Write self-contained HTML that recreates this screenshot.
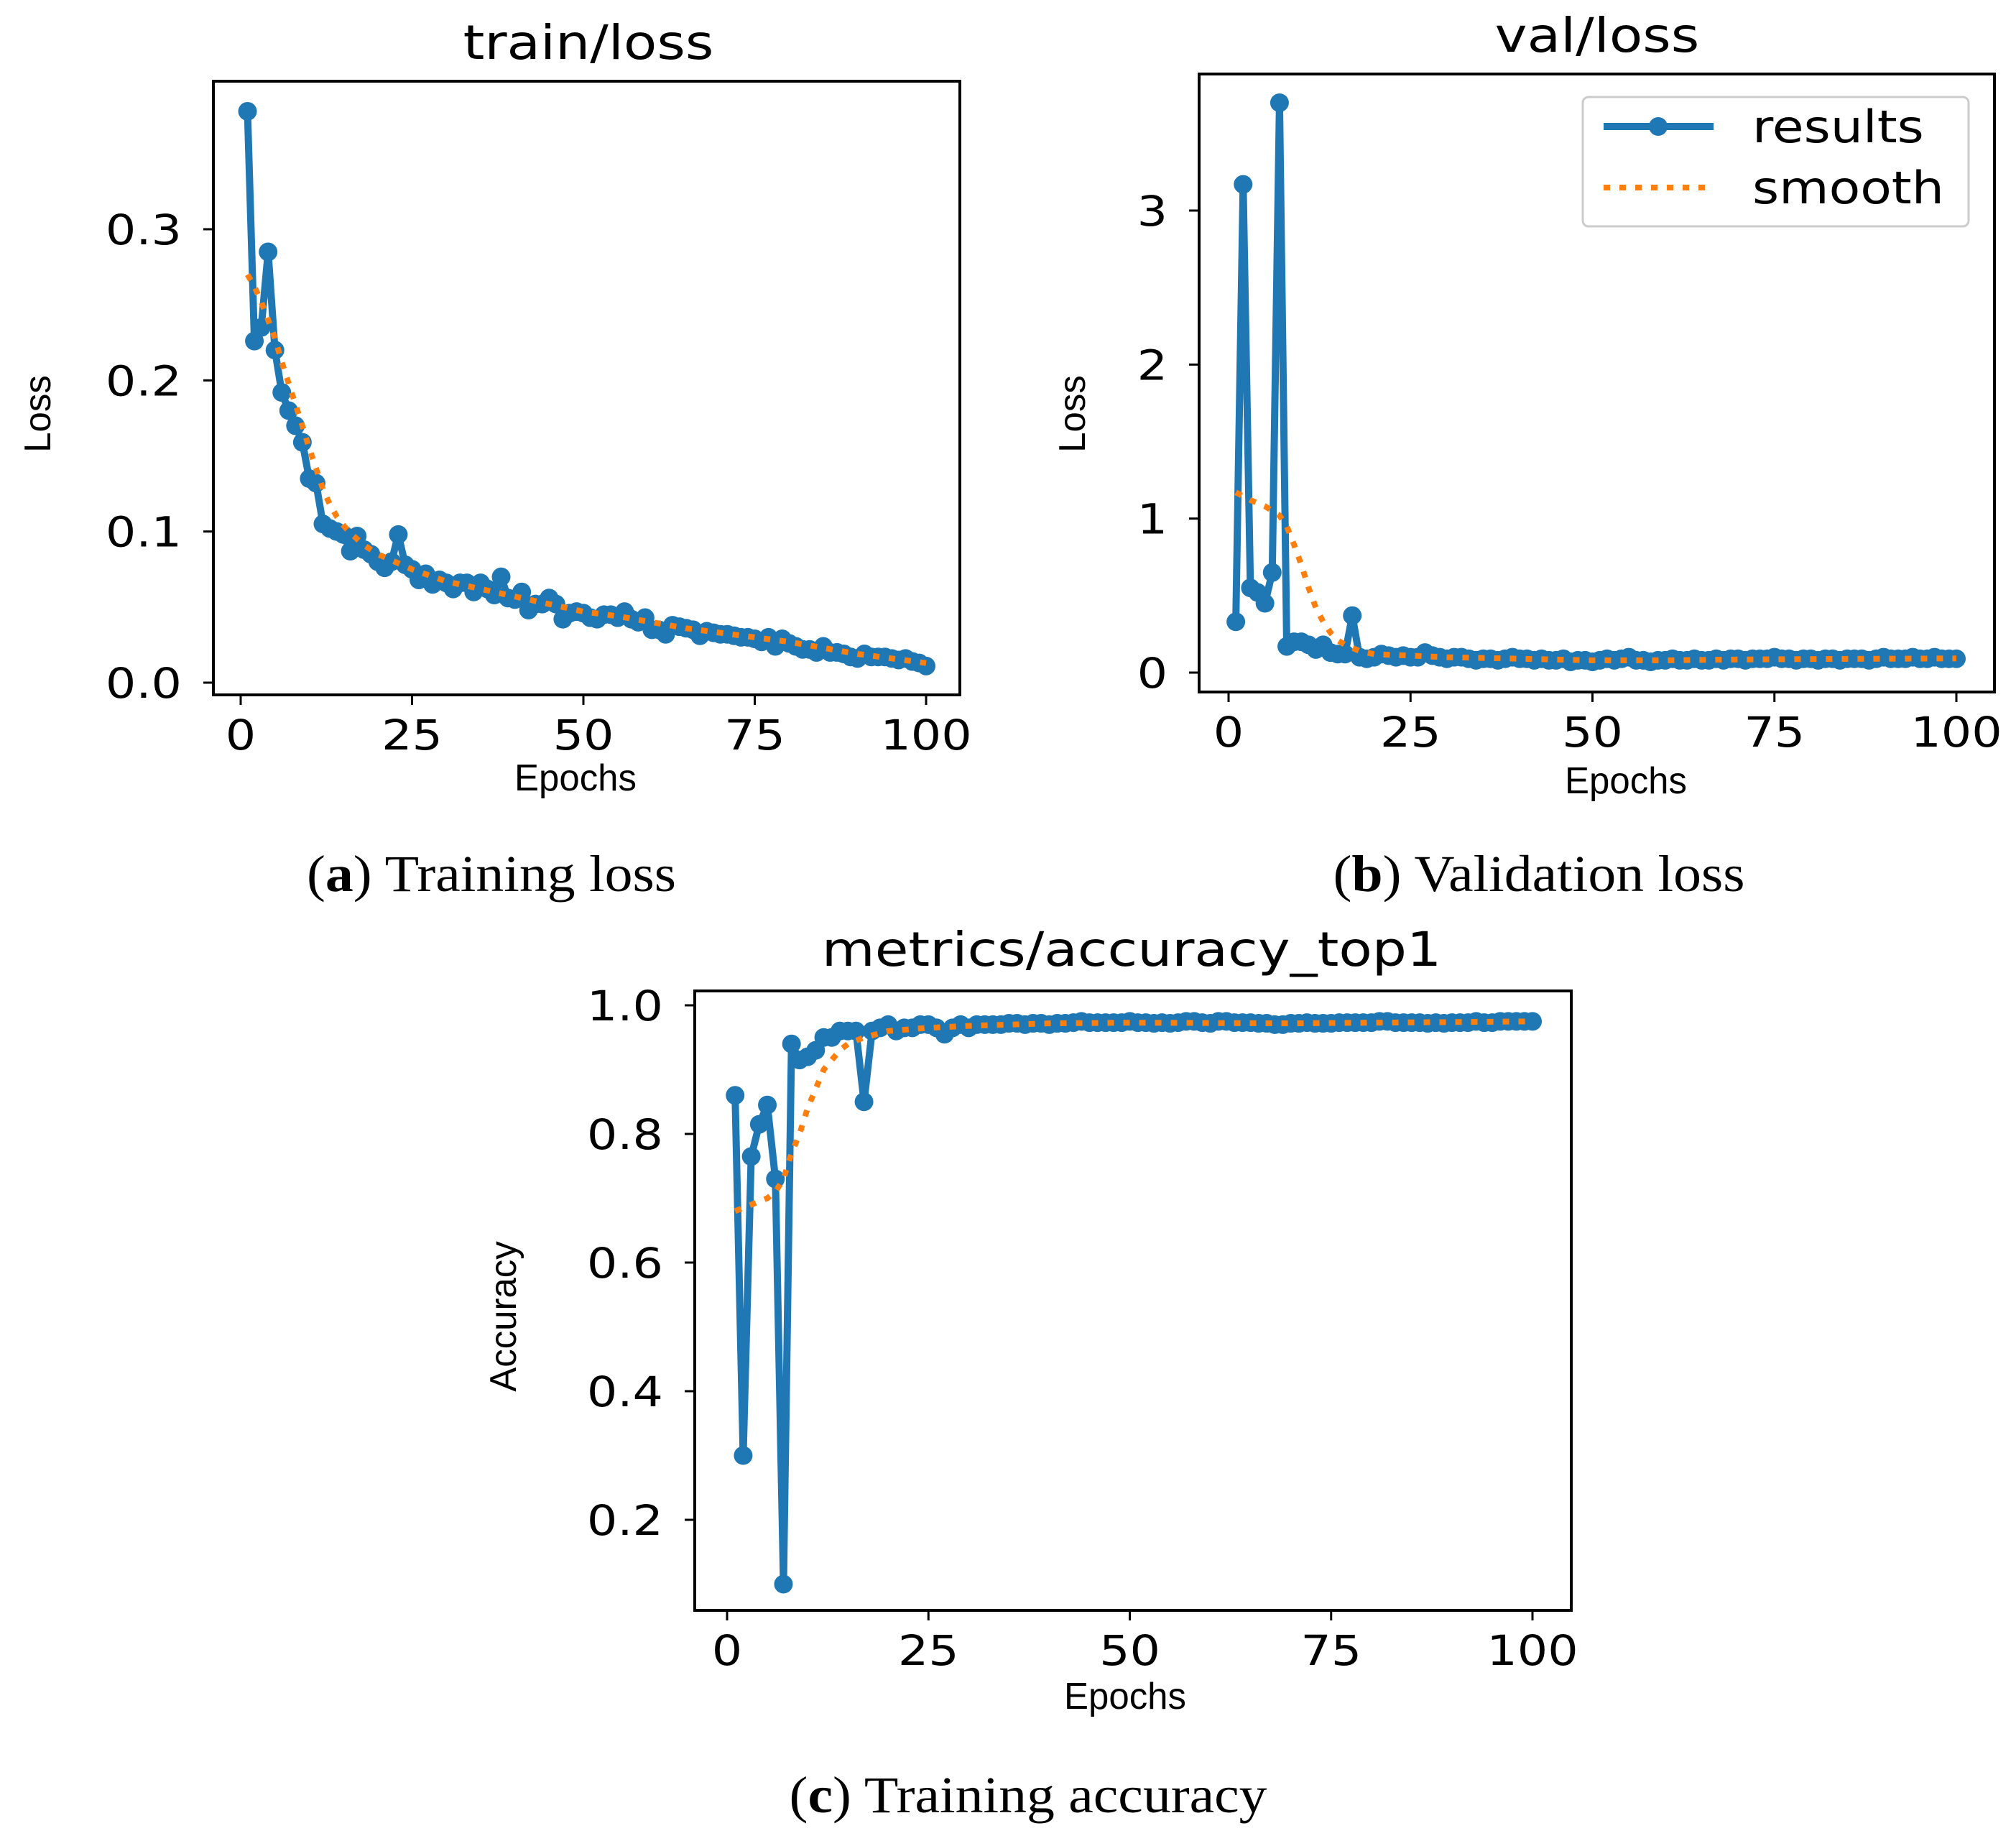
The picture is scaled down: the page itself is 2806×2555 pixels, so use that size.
<!DOCTYPE html>
<html><head><meta charset="utf-8">
<style>
html,body{margin:0;padding:0;background:#fff;}
svg{display:block;}
</style></head>
<body>
<svg id="fig" xmlns="http://www.w3.org/2000/svg" width="2806" height="2555" viewBox="0 0 2806 2555"></svg>
<script>
// ---------- data ----------
const epochs = Array.from({length:100},(_,i)=>i+1);
const trainLoss = [0.378,0.226,0.235,0.285,0.22,0.192,0.18,0.17,0.159,0.135,0.132,0.105,0.102,0.1,0.098,0.087,0.097,0.088,0.085,0.08,
0.076,0.08,0.098,0.078,0.075,0.068,0.072,0.065,0.068,0.066,0.062,0.066,0.066,0.06,0.066,0.062,0.058,0.07,0.056,0.055,
0.06,0.048,0.052,0.052,0.056,0.052,0.042,0.046,0.047,0.046,0.043,0.042,0.045,0.045,0.043,0.047,0.042,0.04,0.043,0.035,
0.035,0.032,0.038,0.037,0.036,0.035,0.031,0.034,0.033,0.032,0.032,0.031,0.03,0.03,0.029,0.027,0.03,0.024,0.029,0.026,
0.024,0.022,0.022,0.02,0.024,0.02,0.02,0.019,0.017,0.016,0.019,0.017,0.017,0.017,0.016,0.015,0.016,0.014,0.013,0.011];
const trainSmoothX = [1,2,3,4,5,6,7,8,9,10,11,12,13,14,15,16,18,20,22,25,30,35,40,45,50,55,60,65,70,75,80,85,90,95,100];
const trainSmoothY = [0.27,0.262,0.252,0.24,0.228,0.212,0.198,0.184,0.17,0.155,0.142,0.128,0.118,0.11,0.104,0.099,0.091,0.085,0.081,0.075,0.067,0.062,0.057,0.052,0.047,0.044,0.04,0.036,0.033,0.03,0.027,0.023,0.019,0.016,0.013];

const valLoss = [0.33,3.17,0.55,0.52,0.45,0.65,3.7,0.17,0.2,0.2,0.18,0.15,0.18,0.13,0.12,0.12,0.37,0.1,0.09,0.1,
0.12,0.11,0.1,0.11,0.1,0.1,0.13,0.11,0.1,0.09,0.1,0.1,0.09,0.08,0.09,0.09,0.08,0.09,0.1,0.09,
0.09,0.08,0.09,0.08,0.08,0.09,0.07,0.08,0.08,0.07,0.08,0.09,0.08,0.09,0.1,0.08,0.08,0.07,0.08,0.08,
0.09,0.08,0.08,0.09,0.08,0.08,0.09,0.08,0.09,0.09,0.08,0.09,0.09,0.09,0.1,0.09,0.09,0.08,0.09,0.09,
0.08,0.09,0.09,0.08,0.09,0.09,0.09,0.08,0.09,0.1,0.09,0.09,0.09,0.1,0.09,0.09,0.1,0.09,0.09,0.09];
const valSmoothX = [1,3,5,7,8,9,10,11,12,13,14,15,16,18,20,25,30,40,50,60,70,80,90,100];
const valSmoothY = [1.17,1.12,1.08,1.02,0.95,0.83,0.7,0.55,0.42,0.33,0.26,0.21,0.18,0.14,0.12,0.11,0.1,0.09,0.08,0.08,0.085,0.088,0.09,0.092];

const accuracy = [0.86,0.3,0.765,0.815,0.845,0.73,0.1,0.94,0.915,0.92,0.93,0.95,0.95,0.96,0.96,0.96,0.85,0.96,0.965,0.97,
0.96,0.965,0.965,0.97,0.97,0.965,0.955,0.965,0.97,0.965,0.97,0.97,0.97,0.97,0.972,0.972,0.97,0.972,0.972,0.97,
0.972,0.972,0.973,0.975,0.973,0.973,0.973,0.973,0.973,0.975,0.973,0.973,0.972,0.973,0.972,0.973,0.975,0.975,0.973,0.972,
0.975,0.975,0.973,0.973,0.973,0.972,0.972,0.97,0.97,0.972,0.972,0.973,0.972,0.972,0.972,0.973,0.973,0.973,0.973,0.973,
0.975,0.975,0.973,0.973,0.973,0.973,0.972,0.973,0.972,0.973,0.973,0.973,0.975,0.973,0.973,0.975,0.975,0.975,0.975,0.975];
const accSmoothX = [1,3,5,6,7,8,9,10,11,12,13,14,15,17,20,25,30,40,50,70,100];
const accSmoothY = [0.68,0.69,0.7,0.71,0.73,0.77,0.8,0.84,0.87,0.9,0.915,0.93,0.94,0.95,0.96,0.965,0.968,0.972,0.973,0.972,0.975];

const xTicks = [0,25,50,75,100];
const trainYTicks = [0,0.1,0.2,0.3];
const trainYLabels = ["0.0","0.1","0.2","0.3"];
const valYTicks = [0,1,2,3];
const valYLabels = ["0","1","2","3"];
const accYTicks = [0.2,0.4,0.6,0.8,1.0];
const accYLabels = ["0.2","0.4","0.6","0.8","1.0"];

// ---------- drawing ----------
const NS="http://www.w3.org/2000/svg";
const svg=document.getElementById('fig');
function mk(tag,attrs,parent){const e=document.createElementNS(NS,tag);for(const k in attrs)e.setAttribute(k,attrs[k]);(parent||svg).appendChild(e);return e;}
const BLUE="#1f77b4", ORANGE="#ff7f0e";
const TICKFONT='"DejaVu Sans","Liberation Sans",sans-serif';
function stext(parent,x,y,sx,rot,anchor,family,size,str){
  const t=mk('text',{x:0,y:0,'text-anchor':anchor,'font-family':family,'font-size':size,fill:'#000',
    transform:`translate(${x},${y})${rot?' rotate('+rot+')':''} scale(${sx},1)`},parent);
  t.textContent=str;return t;
}

function panel(cfg){
  const g=mk('g',{});
  
  
  const X=v=>cfg.x0+(v-0)*(cfg.x100-cfg.x0)/100;
  const Y=v=>cfg.yA+(v-cfg.vA)*(cfg.yB-cfg.yA)/(cfg.vB-cfg.vA);
  xTicks.forEach(t=>{
    const tl=mk('line',{x1:X(t),x2:X(t),y1:cfg.box[3],y2:cfg.box[3]+14,stroke:'#000','stroke-width':3},g);
    
    
    const tx=stext(g,X(t),cfg.box[3]+76,1.15,0,'middle',TICKFONT,58,String(t));
    
    
  });
  cfg.yTicks.forEach((t,i)=>{
    const tl=mk('line',{x1:cfg.box[0]-14,x2:cfg.box[0],y1:Y(t),y2:Y(t),stroke:'#000','stroke-width':3},g);
    
    
    const tx=stext(g,cfg.box[0]-44,Y(t)+21,1.15,0,'end',TICKFONT,58,cfg.yLabels[i]);
    
    
  });
  const pts=epochs.map((e,i)=>X(e).toFixed(1)+','+Y(cfg.res[i]).toFixed(1)).join(' ');
  const pl=mk('polyline',{points:pts,fill:'none',stroke:BLUE,'stroke-width':10,'stroke-linejoin':'round'},g);
  
  
  epochs.forEach((e,i)=>{
    const c=mk('circle',{cx:X(e),cy:Y(cfg.res[i]),r:13,fill:BLUE},g);
    
    
  });
  const spts=cfg.sx.map((e,i)=>X(e).toFixed(1)+','+Y(cfg.sy[i]).toFixed(1)).join(' ');
  const sl=mk('polyline',{points:spts,fill:'none',stroke:ORANGE,'stroke-width':8,'stroke-dasharray':'9 13'},g);
  
  
  const b=cfg.box;
  const r=mk('rect',{x:b[0],y:b[1],width:b[2]-b[0],height:b[3]-b[1],fill:'none',stroke:'#000','stroke-width':4},g);
  
  
  const t=stext(g,cfg.title[1],cfg.title[2],1.15,0,'middle',TICKFONT,66,cfg.title[0]);
  
  
  const xl=stext(g,cfg.xlab[0],cfg.xlab[1],0.98,0,'middle','"Liberation Sans",sans-serif',52,'Epochs');
  
  
  const yl=stext(g,cfg.ylab[1],cfg.ylab[2],0.98,-90,'middle','"Liberation Sans",sans-serif',52,cfg.ylab[0]);
  
  
  const cap=mk('text',{x:0,y:0,'text-anchor':'middle','font-family':'"Liberation Serif",serif','font-size':72,fill:'#000',
    transform:`translate(${cfg.cap[1]},${cfg.cap[2]}) scale(1.08,1)`},g);
  const p1=mk('tspan',{},cap);p1.textContent='(';
  const bb=mk('tspan',{'font-weight':'bold'},cap);bb.textContent=cfg.cap[0];
  const rest=mk('tspan',{},cap);rest.textContent=') '+cfg.cap[3];
  
  
  return g;
}

panel({name:'train-loss-chart',box:[297,113,1336,967],x0:335,x100:1289,yA:950,vA:0,yB:319,vB:0.3,
  yTicks:trainYTicks,yLabels:trainYLabels,res:trainLoss,sx:trainSmoothX,sy:trainSmoothY,
  title:['train/loss',819,82],xlab:[801,1100],ylab:['Loss',70,576],cap:['a',684,1240,'Training loss']});
panel({name:'val-loss-chart',box:[1669,103,2776,963],x0:1710,x100:2723,yA:936,vA:0,yB:293,vB:3,
  yTicks:valYTicks,yLabels:valYLabels,res:valLoss,sx:valSmoothX,sy:valSmoothY,
  title:['val/loss',2223,72],xlab:[2263,1104],ylab:['Loss',1510,576],cap:['b',2142,1240,'Validation loss']});
panel({name:'accuracy-chart',box:[967,1379,2187,2241],x0:1012,x100:2133,yA:1399,vA:1.0,yB:2115,vB:0.2,
  yTicks:accYTicks,yLabels:accYLabels,res:accuracy,sx:accSmoothX,sy:accSmoothY,
  title:['metrics/accuracy_top1',1575,1344],xlab:[1566,2378],ylab:['Accuracy',718,1832],cap:['c',1431,2522,'Training accuracy']});

const lg=mk('g',{});


const lr=mk('rect',{x:2203,y:135,width:537,height:180,rx:8,fill:'#fff',stroke:'#ccc','stroke-width':3},lg);


const l1=mk('line',{x1:2232,x2:2385,y1:176,y2:176,stroke:BLUE,'stroke-width':10},lg);


const l1c=mk('circle',{cx:2308,cy:176,r:13,fill:BLUE},lg);


const t1=stext(lg,2439,198,1.15,0,'start',TICKFONT,62,'results');


const l2=mk('line',{x1:2232,x2:2385,y1:261,y2:261,stroke:ORANGE,'stroke-width':8,'stroke-dasharray':'9 13'},lg);


const t2=stext(lg,2439,283,1.15,0,'start',TICKFONT,62,'smooth');


</script>
</body></html>
